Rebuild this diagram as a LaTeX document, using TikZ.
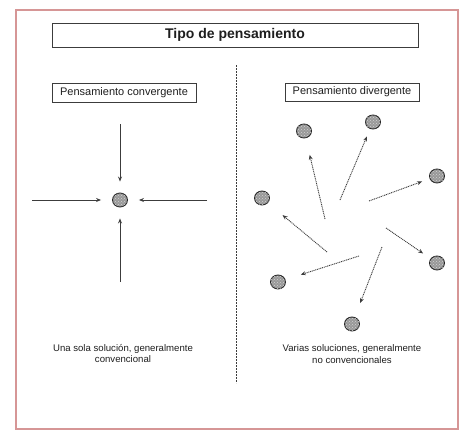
\documentclass[tikz,border=0pt]{standalone}
\usepackage{fontspec}
\setmainfont{Liberation Sans}
\usetikzlibrary{arrows.meta, patterns, shapes.geometric}

\definecolor{framered}{RGB}{214,150,150}
\definecolor{linegray}{RGB}{60,60,60}
\definecolor{textgray}{RGB}{30,30,30}

\tikzset{
	labelbox/.style = {draw = linegray, line width = 0.8pt, text = textgray, inner sep = 0pt},
	solution/.style = {ellipse, draw = gray!30!black, line width = 0.9pt, fill = gray!80, minimum width = 15pt, minimum height = 14pt, inner sep = 0pt, postaction = {pattern = crosshatch dots, pattern color = gray!35}},
	conv/.style = {-{Stealth[length = 5pt, width = 4pt]}, linegray, line width = 0.9pt},
	div/.style = {-{Stealth[length = 5pt, width = 4pt]}, linegray, line width = 0.9pt, dash pattern = on 1pt off 0.8pt},
	caption/.style = {align = center, text = textgray, font = \fontsize{9.6}{11.5}\selectfont}
}

\begin{document}
\begin{tikzpicture}[x = 1pt, y = -1pt]
	\useasboundingbox (0,0) rectangle (475,431);
	\draw [framered, line width = 1.1pt] (16,10) rectangle (458,429);

	\begin{scope}
		\node [labelbox, minimum width = 366pt, minimum height = 24pt, font = \fontsize{14}{16}\selectfont\bfseries] (title) at (235,35) {Tipo de pensamiento};
		\node [labelbox, minimum width = 144pt, minimum height = 19pt, font = \fontsize{11}{13}\selectfont] (convbox) at (124,92.5) {Pensamiento convergente};
		\node [labelbox, minimum width = 134pt, minimum height = 18pt, font = \fontsize{11}{13}\selectfont] (divbox) at (352,92) {Pensamiento divergente};
	\end{scope}

	\coordinate (top) at (236,65);
	\coordinate (bottom) at (236,383);
	\draw [linegray, line width = 1pt, dash pattern = on 2pt off 1pt] (top) -- (bottom);

	% convergente
	\node [solution] (c) at (120,200) {};
	\coordinate (cw) at (32,200);
	\coordinate (ce) at (207,200);
	\coordinate (cn) at (120,124);
	\coordinate (cs) at (120,282);
	\foreach \p in {cw, ce, cn, cs}
		\draw [conv, shorten > = 11pt] (\p) -- (c);

	% divergente
	\foreach \n/\x/\y in {1/304/131, 2/373/122, 3/437/176, 4/262/198, 5/437/263, 6/278/282, 7/352/324}
		\node [solution] (d\n) at (\x,\y) {};
	\foreach \n/\x/\y/\gap in {1/325/219/17, 2/340/200/8, 3/369/201/8, 4/327/252/19, 5/386/228/9, 6/359/256/16, 7/382/247/15}
	{
		\coordinate (s\n) at (\x,\y);
		\draw [div, shorten > = \gap pt] (s\n) -- (d\n);
	}

	\node [caption] (convtext) at (123,353.5) {Una sola solución, generalmente\\convencional};
	\node [caption] (divtext) at (352,354) {Varias soluciones, generalmente\\no convencionales};
\end{tikzpicture}
\end{document}
